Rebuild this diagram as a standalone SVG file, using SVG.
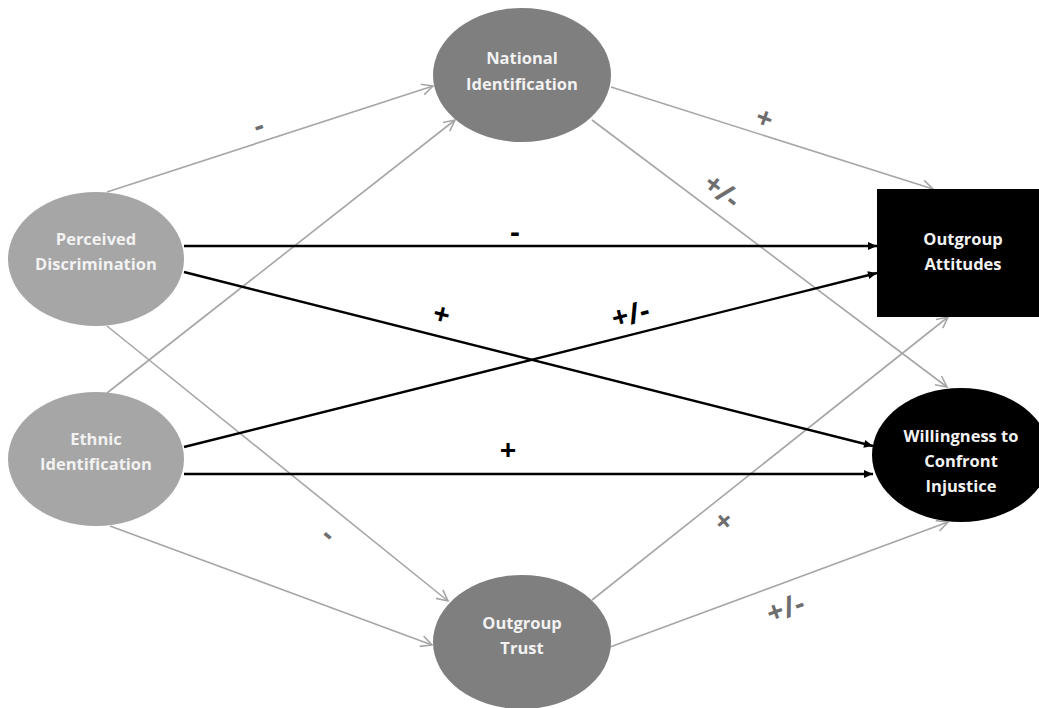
<svg xmlns="http://www.w3.org/2000/svg" width="1039" height="708" viewBox="0 0 1039 708">
<style>
.light{fill:#a6a6a6}
.dark{fill:#7f7f7f}
.blk{fill:#000}
.nt{font-family:"Open Sans","Liberation Sans",sans-serif;font-weight:bold;font-size:16.5px;fill:#f2f2f2;text-anchor:middle}
.g{stroke:#a6a6a6;stroke-width:1.6;fill:none;marker-end:url(#openArr)}
.b{stroke:#000;stroke-width:2.4;fill:none;marker-end:url(#fillArr)}
.lg{font-family:"Open Sans","Liberation Sans",sans-serif;font-weight:bold;font-size:29px;fill:#6e6e6e;text-anchor:middle;dominant-baseline:central}
.lb{font-family:"Open Sans","Liberation Sans",sans-serif;font-weight:bold;font-size:29px;fill:#000;text-anchor:middle;dominant-baseline:central}
</style>
<defs>
<marker id="openArr" markerUnits="userSpaceOnUse" markerWidth="16" markerHeight="16" refX="13" refY="8" orient="auto">
<polyline points="2,2.5 13,8 2,13.5" fill="none" stroke="#a6a6a6" stroke-width="1.6"/>
</marker>
<marker id="fillArr" markerUnits="userSpaceOnUse" markerWidth="12" markerHeight="12" refX="10" refY="6" orient="auto">
<polygon points="1,2 10,6 1,10" fill="#000"/>
</marker>
</defs>
<rect width="1039" height="708" fill="#fff"/>
<g id="connectors">
<line class="g" x1="107" y1="192" x2="433" y2="86"/>
<line class="g" x1="107" y1="393" x2="455" y2="120"/>
<line class="g" x1="107" y1="326" x2="448" y2="601"/>
<line class="g" x1="110" y1="526" x2="432" y2="645"/>
<line class="g" x1="611" y1="87" x2="933" y2="189"/>
<line class="g" x1="592" y1="120" x2="947" y2="387"/>
<line class="g" x1="592" y1="600" x2="948" y2="317"/>
<line class="g" x1="610" y1="647" x2="948" y2="522"/>
<line class="b" x1="184" y1="246" x2="877" y2="246"/>
<line class="b" x1="184" y1="272" x2="873" y2="446"/>
<line class="b" x1="184" y1="447" x2="877" y2="273"/>
<line class="b" x1="184" y1="474" x2="873" y2="474"/>
<text class="lg" transform="translate(258,124) rotate(-20)">-</text>
<text class="lg" transform="translate(765,117) rotate(20)">+</text>
<text class="lg" transform="translate(723,190) rotate(38)">+/-</text>
<text class="lb" transform="translate(515,230)">-</text>
<text class="lb" transform="translate(442,313) rotate(15)">+</text>
<text class="lb" transform="translate(630,313) rotate(-15)">+/-</text>
<text class="lb" transform="translate(508,448)">+</text>
<text class="lg" transform="translate(330,533) rotate(40)">-</text>
<text class="lg" transform="translate(723,520) rotate(-40)">+</text>
<text class="lg" transform="translate(785,607) rotate(-20)">+/-</text>
</g>
<g id="perceived-discrimination">
<ellipse class="light" cx="96" cy="259" rx="88" ry="67"/>
<text class="nt" x="96" y="245">Perceived</text>
<text class="nt" x="96" y="270">Discrimination</text>
</g>
<g id="ethnic-identification">
<ellipse class="light" cx="96" cy="459" rx="88" ry="67"/>
<text class="nt" x="96" y="445">Ethnic</text>
<text class="nt" x="96" y="470">Identification</text>
</g>
<g id="national-identification">
<ellipse class="dark" cx="522" cy="75" rx="89" ry="67"/>
<text class="nt" x="522" y="64">National</text>
<text class="nt" x="522" y="90">Identification</text>
</g>
<g id="outgroup-trust">
<ellipse class="dark" cx="522" cy="642" rx="89" ry="67"/>
<text class="nt" x="522" y="629">Outgroup</text>
<text class="nt" x="522" y="654">Trust</text>
</g>
<g id="outgroup-attitudes">
<rect class="blk" x="877" y="189" width="170" height="128"/>
<text class="nt" x="963" y="245">Outgroup</text>
<text class="nt" x="963" y="270">Attitudes</text>
</g>
<g id="willingness">
<ellipse class="blk" cx="961" cy="455" rx="89" ry="67"/>
<text class="nt" x="961" y="442">Willingness to</text>
<text class="nt" x="961" y="467">Confront</text>
<text class="nt" x="961" y="492">Injustice</text>
</g>
</svg>
